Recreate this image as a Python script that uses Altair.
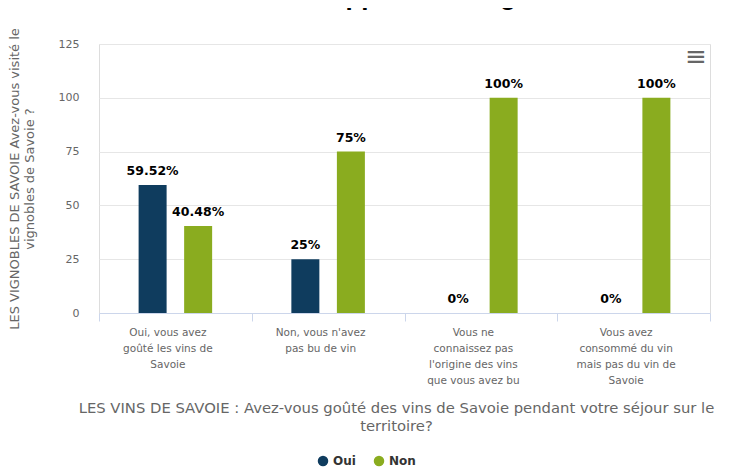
import altair as alt
import pandas as pd

categories = [
    "Oui, vous avez goûté les vins de Savoie",
    "Non, vous n'avez pas bu de vin",
    "Vous ne connaissez pas l'origine des vins que vous avez bu",
    "Vous avez consommé du vin mais pas du vin de Savoie",
]
category_lines = [
    ["Oui, vous avez", "goûté les vins de", "Savoie"],
    ["Non, vous n'avez", "pas bu de vin"],
    ["Vous ne", "connaissez pas", "l'origine des vins", "que vous avez bu"],
    ["Vous avez", "consommé du vin", "mais pas du vin de", "Savoie"],
]
series = ["Oui", "Non"]
oui_values = [59.52, 25, 0, 0]
non_values = [40.48, 75, 100, 100]
y_ticks = [0, 25, 50, 75, 100, 125]
colors = ["#0f3c5e", "#8aac1f"]

title_text = "apport à la dégustation de"
y_title = ["LES VIGNOBLES DE SAVOIE Avez-vous visité le", "vignobles de Savoie ?"]
x_title = ["LES VINS DE SAVOIE : Avez-vous goûté des vins de Savoie pendant votre séjour sur le",
           "territoire?"]

rows = []
for i, c in enumerate(categories):
    rows.append({"cat": c, "serie": "Oui", "value": oui_values[i]})
    rows.append({"cat": c, "serie": "Non", "value": non_values[i]})
df = pd.DataFrame(rows)

# label expression mapping category -> wrapped lines
parts = []
for c, lines in zip(categories, category_lines):
    esc = c.replace("'", "\\'")
    arr = "[" + ",".join("'" + l.replace("'", "\\'") + "'" for l in lines) + "]"
    parts.append((esc, arr))
label_expr = "datum.value"
for esc, arr in reversed(parts):
    label_expr = f"datum.value === '{esc}' ? {arr} : ({label_expr})"

FONT = "DejaVu Sans"

x_enc = alt.X(
    "cat:N", sort=categories,
    scale=alt.Scale(paddingInner=0, paddingOuter=0),
    axis=alt.Axis(
        title=x_title, labelExpr=label_expr, labelAngle=0, labelOffset=-8,
        labelColor="#666666", labelFontSize=10.5, labelFont=FONT, labelLineHeight=16,
        labelPadding=6, labelLimit=200,
        tickBand="extent", tickSize=8, tickColor="#ccd6eb", domainColor="#ccd6eb",
        titleColor="#666666", titleFontSize=14.8, titleFont=FONT, titleFontWeight="normal",
        titleLineHeight=18, titlePadding=15, titleX=297, titleAlign="center",
        titleAnchor="middle",
    ),
)
xoff_enc = alt.XOffset("serie:N", sort=series,
                       scale=alt.Scale(paddingInner=0.385, paddingOuter=0.87))
y_enc = alt.Y(
    "value:Q", scale=alt.Scale(domain=[0, 125], nice=False),
    axis=alt.Axis(
        values=y_ticks, title=y_title, domain=False, ticks=False,
        gridColor="#e6e6e6", labelColor="#666666", labelFontSize=11, labelFont=FONT,
        labelPadding=20, titleColor="#666666", titleFontSize=13, titleFont=FONT,
        titleFontWeight="normal", titleLineHeight=15, titlePadding=22,
        titleAlign="center", titleAnchor="middle", titleBaseline="bottom",
    ),
)
color_enc = alt.Color(
    "serie:N", sort=series,
    scale=alt.Scale(domain=series, range=colors),
    legend=alt.Legend(
        title=None, orient="none", direction="horizontal", legendX=218, legendY=411,
        symbolType="circle", symbolSize=110, symbolStrokeWidth=0,
        labelFont=FONT, labelFontSize=12, labelFontWeight="bold", labelColor="#333333",
        columnPadding=17, symbolOffset=0,
    ),
)

base = alt.Chart(df)
bars = base.mark_bar(size=28).encode(x=x_enc, xOffset=xoff_enc, y=y_enc, color=color_enc)
labels = base.mark_text(
    dy=-7, font=FONT, fontSize=12.5, fontWeight="bold", color="#000000", baseline="bottom"
).transform_calculate(
    lbl="format(datum.value, '.2~f') + '%'"
).encode(x=alt.X("cat:N", sort=categories), xOffset=alt.XOffset("serie:N", sort=series),
         y="value:Q", text="lbl:N")

title_layer = alt.Chart(pd.DataFrame({"t": [title_text]})).mark_text(
    align="left", baseline="alphabetic", font="Liberation Sans", fontSize=26,
    fontWeight="bold", color="#000000"
).encode(text="t:N", x=alt.value(232), y=alt.value(-39))

menu_layer = alt.Chart(pd.DataFrame({"t": ["≡"]})).mark_text(
    align="center", baseline="middle", fontSize=26, color="#666666", font=FONT
).encode(text="t:N", x=alt.value(597), y=alt.value(13))

chart = alt.layer(bars, labels, title_layer, menu_layer).properties(
    width=611, height=269,
    autosize=alt.AutoSizeParams(type="none"),
    padding={"left": 91, "top": 36, "right": 18, "bottom": 160},
).configure_view(stroke=None).configure(background="#ffffff")

chart.save("out.html", embed_options={"renderer": "svg", "actions": False})
